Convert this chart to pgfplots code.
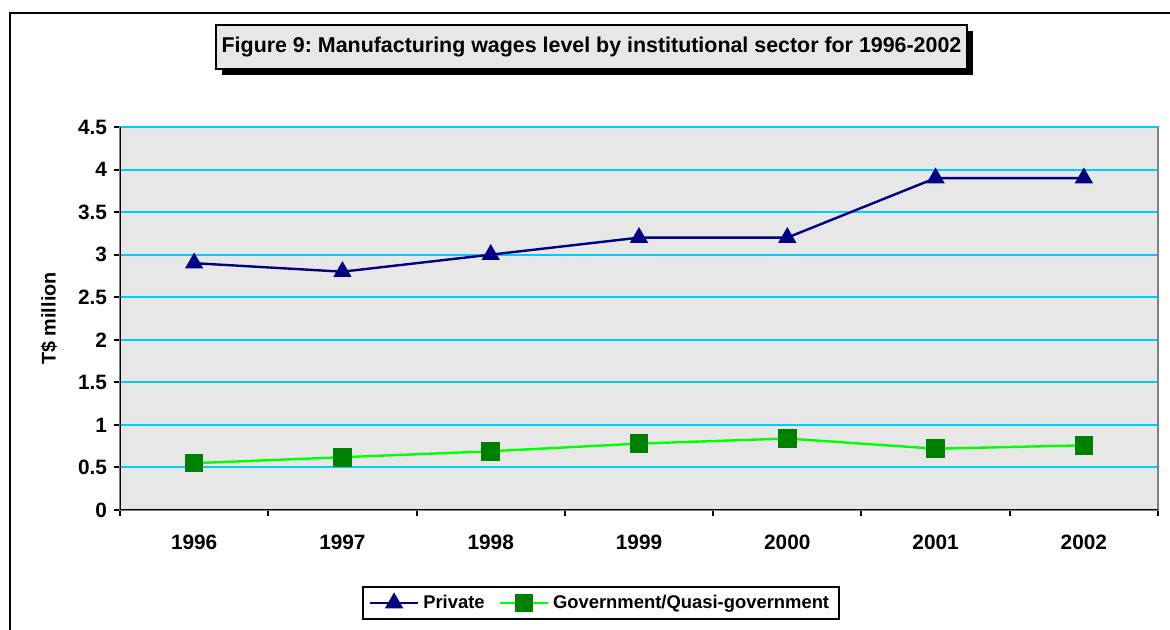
\documentclass[border=0pt]{standalone}
\usepackage{fontspec}
\setmainfont{Liberation Sans}
\usepackage{pgfplots}
\pgfplotsset{compat=1.18}
\definecolor{bggray}{RGB}{231,231,231}
\definecolor{gridcyan}{RGB}{0,204,255}
\definecolor{navyline}{RGB}{0,0,128}
\definecolor{limeline}{RGB}{0,255,0}
\definecolor{darkgreenmark}{RGB}{0,128,0}
\definecolor{borderGray}{RGB}{128,128,128}
\frenchspacing
\begin{document}
\begin{tikzpicture}[x=0.5pt,y=0.5pt]
\useasboundingbox (0,0) rectangle (1170,630);
\begin{scope}
\clip (0,0) rectangle (1170,630);
\draw[line width=1pt] (10,-20) -- (10,617) -- (1190,617);
\end{scope}
% title box with shadow
\fill[black] (222,555) rectangle (973,599);
\draw[line width=1pt, fill=bggray] (216,561) rectangle (967,605);
\node[font=\fontsize{10.7pt}{12pt}\selectfont\bfseries] at (591.5,583) {Figure 9: Manufacturing wages level by institutional sector for 1996-2002};
\begin{axis}[
  at={(60pt,60pt)}, anchor=south west,
  scale only axis, width=519pt, height=191.5pt,
  xmin=0, xmax=7, ymin=0, ymax=4.5,
  xtick={0.5,1.5,2.5,3.5,4.5,5.5,6.5},
  xticklabels={1996,1997,1998,1999,2000,2001,2002},
  minor xtick={0,1,2,3,4,5,6,7},
  ytick={0,0.5,1,1.5,2,2.5,3,3.5,4,4.5},
  yticklabels={0,0.5,1,1.5,2,2.5,3,3.5,4,4.5},
  xtick pos=bottom, ytick pos=left,
  tick align=outside,
  major tick length=3pt, minor tick length=3pt,
  major x tick style={draw=none},
  minor x tick style={black, line width=1pt},
  ytick style={black, line width=1pt},
  ymajorgrids,
  major grid style={gridcyan, line width=1pt},
  axis background/.style={fill=bggray},
  axis line style={draw=borderGray, line width=1pt},
  tick label style={font=\fontsize{10.4pt}{12pt}\selectfont\bfseries},
  xticklabel style={yshift=-6pt},
  ylabel={T\$ million},
  every axis y label/.style={at={(axis description cs:0,0.5)}, xshift=-35.5pt, rotate=90, anchor=center, font=\fontsize{9.9pt}{12pt}\selectfont\bfseries},
  legend columns=2,
  legend style={at={(axis description cs:0.4634,-0.2428)}, anchor=center, draw=black, line width=1pt, fill=white, font=\fontsize{9.2pt}{11pt}\selectfont\bfseries, inner xsep=3pt, inner ysep=2pt},
  legend image code/.code={\draw[mark repeat=2,mark phase=2,#1] plot coordinates {(0pt,0pt) (12pt,0pt) (24pt,0pt)};},
  /tikz/every even column/.append style={column sep=5pt},
]
\draw[gridcyan, line width=1pt] (rel axis cs:0,1) -- (rel axis cs:1,1);
\addplot[navyline, line width=1.2pt, mark=triangle*, mark size=4.8pt, mark options={fill=navyline, draw=navyline, line width=0.5pt}] coordinates {(0.5,2.9)(1.5,2.8)(2.5,3.0)(3.5,3.2)(4.5,3.2)(5.5,3.9)(6.5,3.9)};
\addlegendentry{Private}
\addplot[limeline, line width=1.2pt, mark=square*, mark size=4.4pt, mark options={fill=darkgreenmark, draw=darkgreenmark, line width=0.5pt}] coordinates {(0.5,0.55)(1.5,0.62)(2.5,0.69)(3.5,0.78)(4.5,0.84)(5.5,0.72)(6.5,0.76)};
\addlegendentry{Government/Quasi-government}
\draw[black, line width=1pt] (rel axis cs:0,1) -- (rel axis cs:0,0) -- (rel axis cs:1,0);
\end{axis}
\end{tikzpicture}
\end{document}
